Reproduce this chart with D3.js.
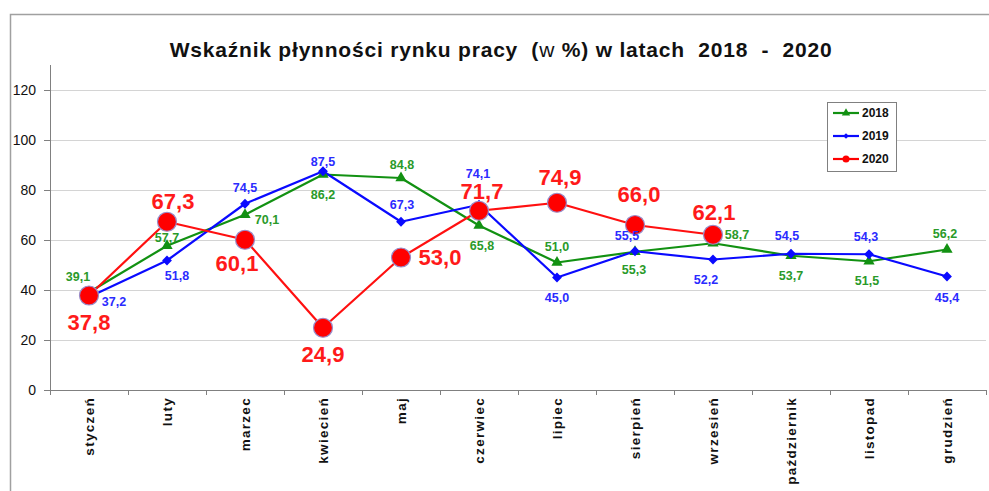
<!DOCTYPE html>
<html><head><meta charset="utf-8">
<script src="https://cdn.jsdelivr.net/npm/d3@7"></script>
<style>body{margin:0;background:#fff}svg{display:block}text{font-family:Arial,"Liberation Sans",sans-serif}</style>
</head><body><svg id="c" width="989" height="491"></svg>
<script>
const months = ["styczeń","luty","marzec","kwiecień","maj","czerwiec","lipiec","sierpień","wrzesień","październik","listopad","grudzień"];
const yTicks = [0,20,40,60,80,100,120];
const v2018 = [39.1,57.7,70.1,86.2,84.8,65.8,51.0,55.3,58.7,53.7,51.5,56.2];
const v2019 = [37.2,51.8,74.5,87.5,67.3,74.1,45.0,55.5,52.2,54.5,54.3,45.4];
const v2020 = [37.8,67.3,60.1,24.9,53.0,71.7,74.9,66.0,62.1];
// label placement offsets [dx, dy] relative to point (styling only)
const off2018 = [[-11,-15],[0,-8],[22,5],[0,20],[1,-13],[3,20],[0,-16],[-1,18],[24,-8],[0,20],[-2,20],[-2,-16]];
const off2019 = [[25,5],[10,15],[0,-16],[0,-9],[1,-17],[-1,-31],[0,20],[-8,-15],[-7,20],[-4,-18],[-3,-17],[0,21]];
const off2020 = [[0,27],[6,-20],[-8,24],[0,27],[39,0],[3,-19],[3,-25],[4,-31],[1,-22]];

const svg = d3.select("#c");
const L = 50, R = 986, T = 65, B = 390;
const x = d3.scaleBand().domain(months).range([L, R]);
const y = d3.scaleLinear().domain([0,120]).range([B, 90]);
const cx = (i) => x(months[i]) + x.bandwidth()/2;

// frame
svg.append("path").attr("d", `M10.5,491 V14.5 H989`).attr("fill","none").attr("stroke","#a0a0a0").attr("stroke-width",1.5);

// title
svg.append("text").attr("x", 501).attr("y", 57).attr("text-anchor","middle")
  .attr("font-size", 21).attr("font-weight","bold").attr("fill","#111").attr("letter-spacing",0.8)
  .html("Wskaźnik płynności rynku pracy&#160;&#160;(<tspan font-weight='normal'>w</tspan> %) w latach&#160;&#160;2018&#160;&#160;-&#160;&#160;2020");

// gridlines
svg.append("g").selectAll("line").data(yTicks.filter(d=>d>0)).join("line")
  .attr("x1", L).attr("x2", R).attr("y1", d=>y(d)+0.5).attr("y2", d=>y(d)+0.5)
  .attr("stroke","#d4d4d4").attr("stroke-width",1);

// y axis
const ya = svg.append("g").attr("transform",`translate(${L},0)`)
  .call(d3.axisLeft(y).tickValues(yTicks).tickSize(6).tickPadding(8).tickFormat(d3.format("d")));
ya.select(".domain").attr("d", `M0.5,${T}V${B}`).attr("stroke","#808080");
ya.selectAll(".tick line").attr("stroke","#808080");
ya.selectAll(".tick text").attr("font-size",14).attr("fill","#111").attr("font-family","Arial");

// x axis
const xa = svg.append("g").attr("transform",`translate(0,${B})`)
  .call(d3.axisBottom(x).tickSize(0).tickFormat(""));
xa.select(".domain").attr("stroke","#808080");
const bounds = months.map((m)=>x(m)).concat([R]);
xa.selectAll(".bt").data(bounds).join("line").attr("class","bt")
  .attr("x1",d=>d+0.5).attr("x2",d=>d+0.5).attr("y1",0).attr("y2",5).attr("stroke","#808080");
svg.append("g").selectAll("text").data(months).join("text")
  .attr("transform",(d)=>`translate(${x(d)+x.bandwidth()/2+5},${B+7}) rotate(-90)`)
  .attr("text-anchor","end").attr("font-size",13.5).attr("font-weight","bold").attr("fill","#111")
  .attr("letter-spacing",1.3)
  .text(d=>d);

const line = d3.line().x((d,i)=>cx(i)).y(d=>y(d));

function series(vals, color, width){
  svg.append("path").datum(vals).attr("d", line).attr("fill","none")
    .attr("stroke", color).attr("stroke-width", width).attr("stroke-linejoin","round");
}
series(v2018, "#129112", 2.2);
series(v2019, "#0a0aff", 2.2);
series(v2020, "#ff1010", 2.2);

// markers
const tri = d3.symbol().type(d3.symbolTriangle).size(55);
const sq = d3.symbol().type(d3.symbolSquare).size(48);
svg.append("g").selectAll("path").data(v2018).join("path")
  .attr("d", tri).attr("transform",(d,i)=>`translate(${cx(i)},${y(d)})`).attr("fill","#129112");
svg.append("g").selectAll("path").data(v2019).join("path")
  .attr("d", sq).attr("transform",(d,i)=>`translate(${cx(i)},${y(d)}) rotate(45)`).attr("fill","#0a0aff");
svg.append("g").selectAll("circle").data(v2020).join("circle")
  .attr("cx",(d,i)=>cx(i)).attr("cy",d=>y(d)).attr("r",9.5)
  .attr("fill","#ff0000").attr("stroke","#9a8cc8").attr("stroke-width",1.2);

// labels
const fmt = (d)=>d.toFixed(1).replace(".",",");
function labels(vals, offs, color, size){
  svg.append("g").selectAll("text").data(vals).join("text")
    .attr("x",(d,i)=>cx(i)+offs[i][0]).attr("y",(d,i)=>y(d)+offs[i][1])
    .attr("text-anchor","middle").attr("dominant-baseline","central")
    .attr("font-size",size).attr("font-weight","bold").attr("fill",color).text(fmt);
}
labels(v2018, off2018, "#2a9a2a", 12.5);
labels(v2019, off2019, "#2b2bff", 12.5);
labels(v2020, off2020, "#ff1a1a", 22);

// legend
const lg = svg.append("g");
lg.append("rect").attr("x",827.5).attr("y",102.5).attr("width",69).attr("height",69)
  .attr("fill","#fff").attr("stroke","#808080").attr("stroke-width",1);
const leg = [["2018","#129112","tri"],["2019","#0a0aff","dia"],["2020","#ff0000","cir"]];
leg.forEach((l,i)=>{
  const ly = 113 + i*23;
  lg.append("line").attr("x1",833).attr("x2",859).attr("y1",ly).attr("y2",ly).attr("stroke",l[1]).attr("stroke-width",2.2);
  if(l[2]==="tri") lg.append("path").attr("d", d3.symbol().type(d3.symbolTriangle).size(30)).attr("transform",`translate(846,${ly})`).attr("fill",l[1]);
  else if(l[2]==="dia") lg.append("path").attr("d", d3.symbol().type(d3.symbolSquare).size(16)).attr("transform",`translate(846,${ly}) rotate(45)`).attr("fill",l[1]);
  else lg.append("circle").attr("cx",846).attr("cy",ly).attr("r",3.5).attr("fill",l[1]);
  lg.append("text").attr("x",862).attr("y",ly).attr("dominant-baseline","central")
    .attr("font-size",12).attr("font-weight","bold").attr("fill","#111").text(l[0]);
});
</script></body></html>
